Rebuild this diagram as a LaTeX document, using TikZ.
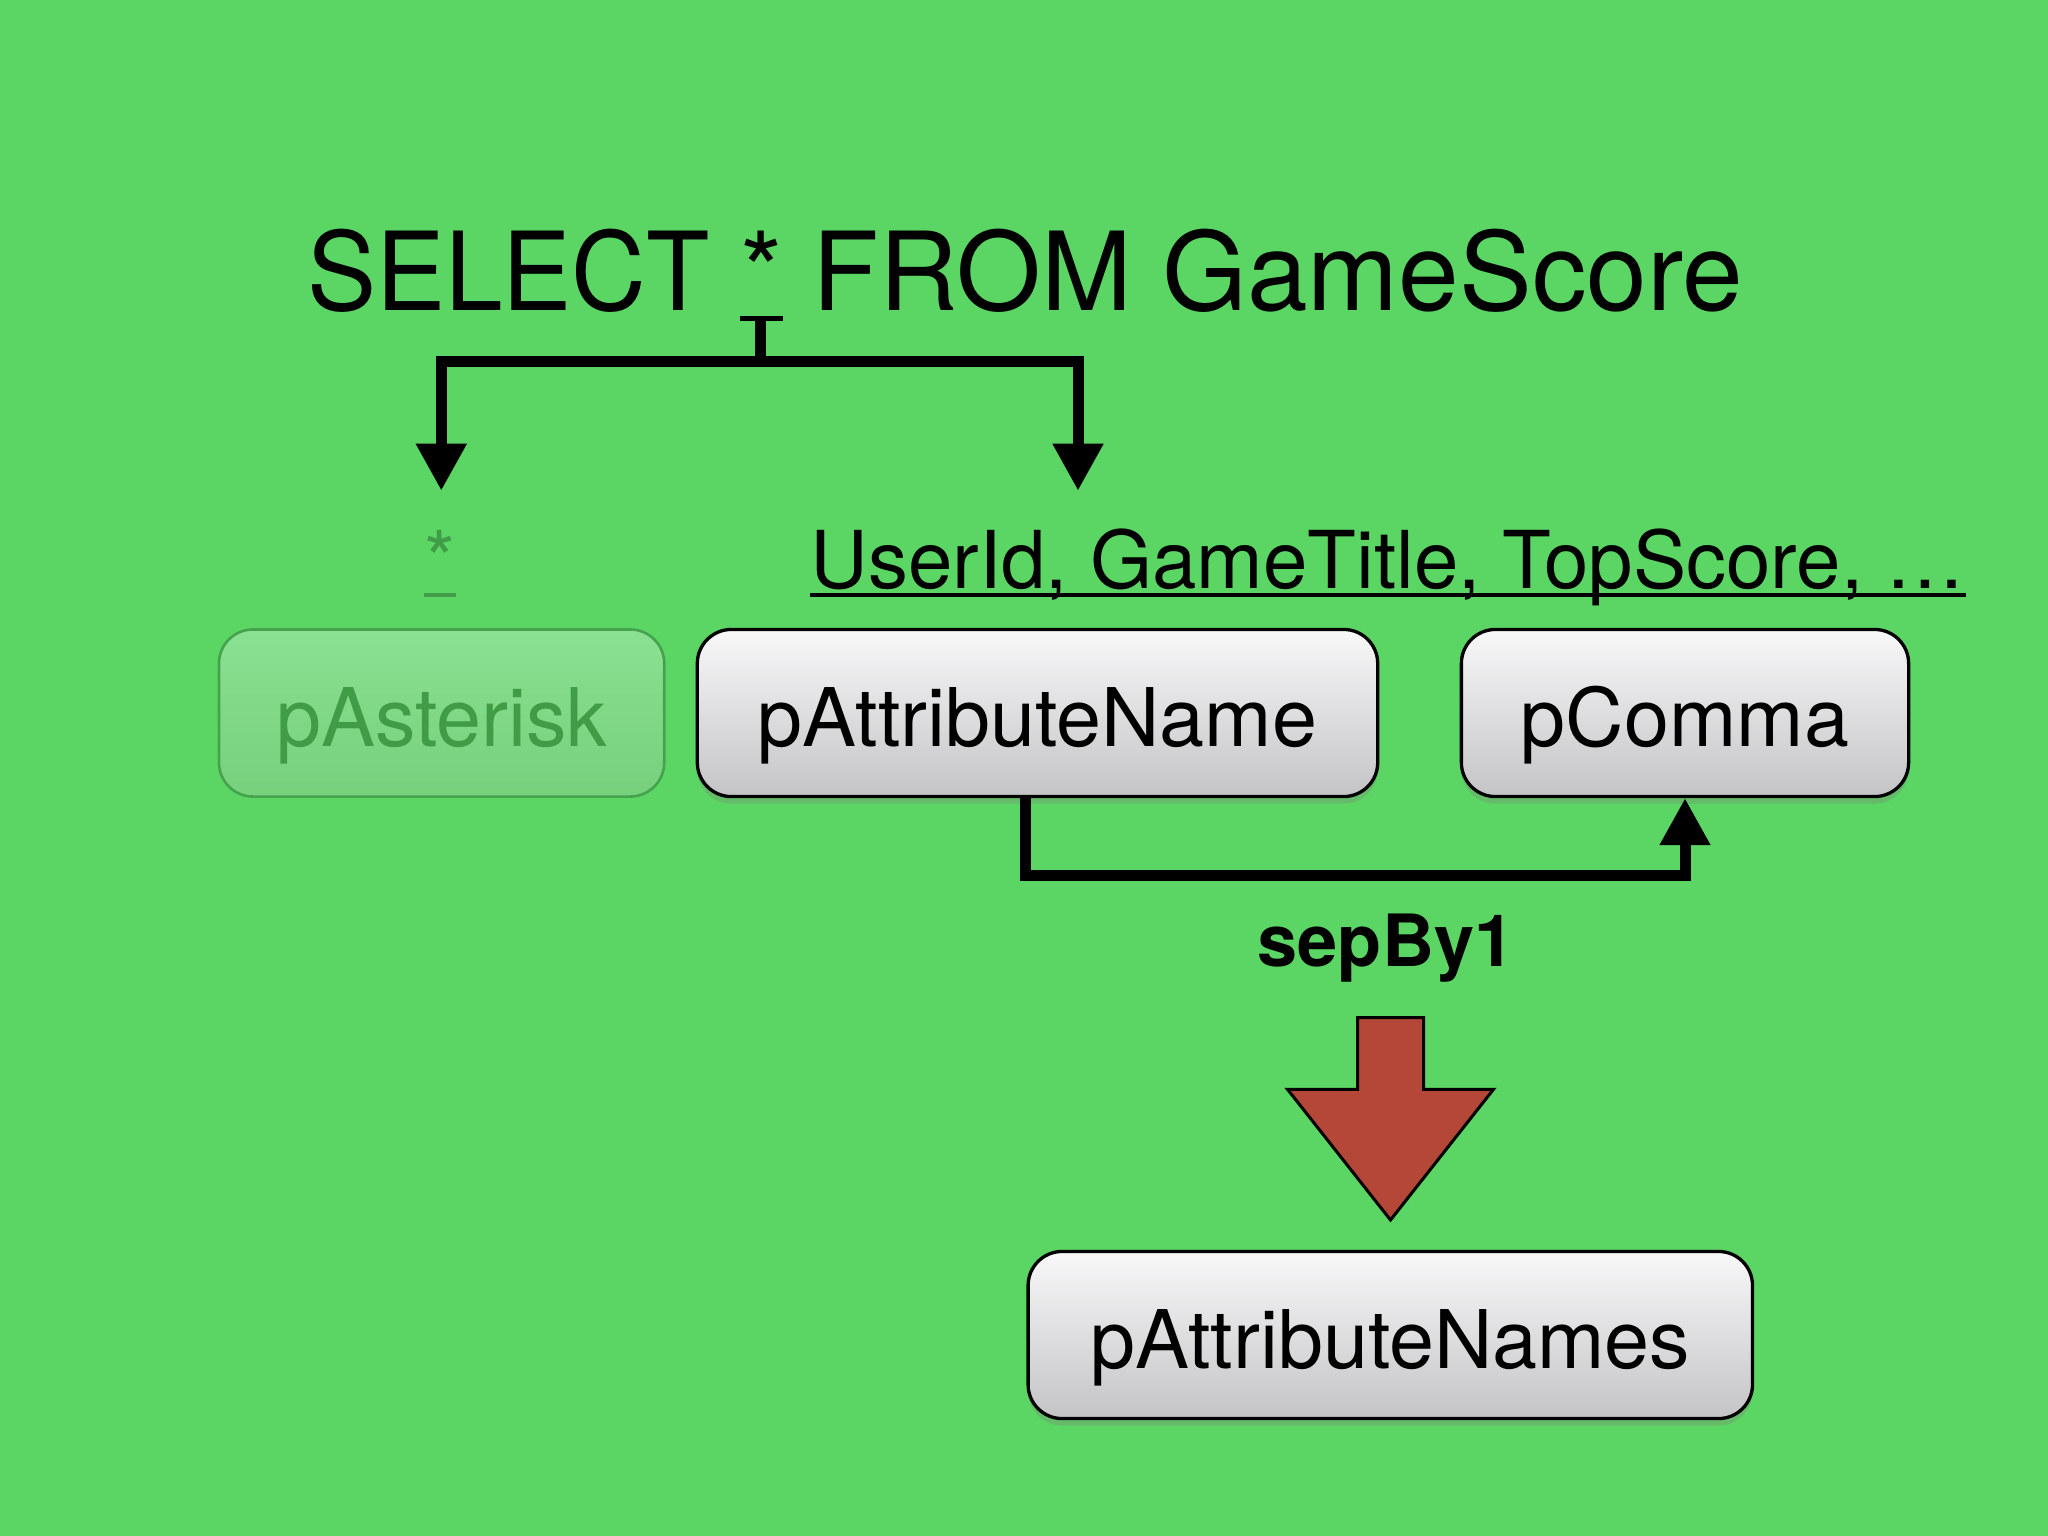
\documentclass[tikz,border=0pt]{standalone}
\usepackage{fontspec}
\setmainfont{TeX Gyre Heros}
\newfontfamily\narrowsans[FakeStretch=0.95]{TeX Gyre Heros}
\usetikzlibrary{arrows.meta,calc,shadows}
\definecolor{slidegreen}{RGB}{91,213,99}
\definecolor{fadegreen}{RGB}{64,156,70}
\definecolor{fadeline}{RGB}{70,162,76}
\definecolor{fadetop}{RGB}{138,225,146}
\definecolor{fadebot}{RGB}{118,208,124}
\definecolor{boxtop}{RGB}{248,248,249}
\definecolor{boxbot}{RGB}{196,196,198}
\definecolor{arrowred}{RGB}{180,71,56}

\begin{document}
\begin{tikzpicture}[x=0.01cm,y=-0.01cm,
  word/.style={inner sep=0,anchor=base,font=\fontsize{31}{36}\selectfont},
  field/.style={inner sep=0,anchor=base,font=\fontsize{22.7}{27}\selectfont},
  keybox/.style={draw=black,line width=0.033cm,rounded corners=0.34cm,top color=boxtop,bottom color=boxbot,minimum height=1.67cm,inner sep=0,text height=0.81cm,text depth=0.15cm,font=\fontsize{23}{27}\selectfont},
  pbox/.style={keybox,drop shadow={shadow xshift=0pt,shadow yshift=-2pt,opacity=0.3}},
  fbox/.style={keybox,draw=fadeline,line width=0.026cm,top color=fadetop,bottom color=fadebot,text=fadegreen},
  conn/.style={line width=0.11cm},
  tip/.style={-{Triangle[length=0.47cm,width=0.48cm]}}]
\fill[slidegreen] (0,0) rectangle (2048,1536);
\useasboundingbox (0,0) rectangle (2048,1536);

\node[word,font=\fontsize{31}{36}\narrowsans] (sel) at (508.5,310.5) {SELECT};
\node[word] (star) at (761.5,310.5) {*};
\node[word] (from) at (1278,310.5) {FROM GameScore};
\draw[line width=0.05cm] ($(star.base west)+(0,8)$) -- ($(star.base east)+(0,8)$);

\node[field,text=fadegreen] (astsm) at (440,588.3) {*};
\node[field] (attrs) at (1388,588.3) {UserId, GameTitle, TopScore, …};
\draw[fadegreen,line width=0.04cm] ($(astsm.base west)+(0,7)$) -- ($(astsm.base east)+(0,7)$);
\draw[line width=0.04cm] ($(attrs.base west)+(0,7)$) -- ($(attrs.base east)+(0,7)$);

\node[fbox,minimum width=4.45cm] (past) at (441.6,713) {pAsterisk};
\foreach \n/\x/\w/\t in %
{pattr/1037.5/6.80/pAttributeName,pcomma/1685/4.47/pComma} {
   \node[pbox,minimum width=\w cm] (\n) at (\x,713) {\t};
}
\node[inner sep=0,anchor=base,font=\fontsize{20.5}{24}\selectfont\bfseries] (sep) at (1386,966) {sepBy1};
\node[pbox,minimum width=7.24cm] (pattrs) at (1390.3,1335) {pAttributeNames};

\coordinate (fork) at (760,361);
\coordinate (lefttip) at (441.3,490.7);
\coordinate (righttip) at (1078,490.7);
\draw[conn] ($(star.base)+(-1.5,8)$) -- (fork);
\draw[conn,tip] (fork) -| (lefttip);
\draw[conn,tip] (fork) -| (righttip);
\draw[conn,tip] (pattr.south) ++(-12.5,0) |- ($(pcomma.south)+(0,77.5)$) -- (pcomma.south);

\draw[fill=arrowred,line width=0.03cm] (1357.5,1017.7) -- (1423.5,1017.7) -- (1423.5,1089.3)
   -- (1493.5,1089.3) -- (1390.5,1220) -- (1287.5,1089.3) -- (1357.5,1089.3) -- cycle;
\end{tikzpicture}
\end{document}
